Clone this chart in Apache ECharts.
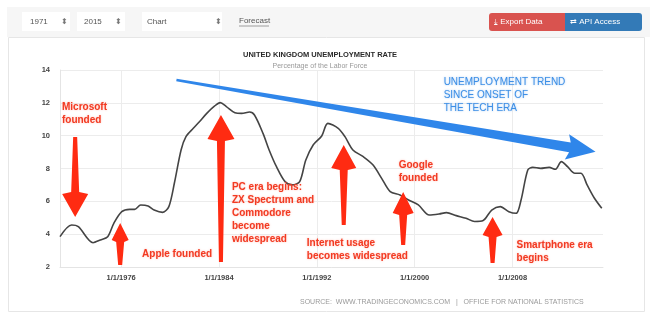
<!DOCTYPE html>
<html>
<head>
<meta charset="utf-8">
<script src="https://cdn.jsdelivr.net/npm/echarts@6/dist/echarts.min.js"></script>
<style>
  html, body { margin: 0; padding: 0; background: #fff; }
  #main { width: 650px; height: 313px; }
</style>
</head>
<body>
<div id="main"></div>
<script>
// UK unemployment rate (decimal year, percent)
const years = [1971.0, 1971.95, 1972.5, 1973.7, 1974.3, 1974.9, 1975.4, 1976.05, 1976.7, 1977.1,
  1977.6, 1978.2, 1978.7, 1979.4, 1979.9, 1980.35, 1980.9, 1981.3, 1981.9, 1982.4,
  1983.0, 1983.65, 1984.1, 1984.6, 1985.3, 1985.85, 1986.5, 1986.9, 1987.6, 1988.1,
  1988.7, 1989.4, 1990.0, 1990.6, 1991.1, 1991.7, 1992.4, 1992.9, 1993.75, 1994.3,
  1994.95, 1995.8, 1996.6, 1997.3, 1998.0, 1998.8, 1999.5, 2000.3, 2001.2, 2002.0,
  2002.6, 2003.4, 2004.2, 2004.9, 2005.6, 2006.3, 2007.0, 2007.7, 2008.3, 2008.7,
  2009.25, 2009.65, 2010.3, 2011.0, 2011.5, 2012.0, 2012.5, 2013.1, 2013.6, 2014.1,
  2014.7, 2015.3];
const rate = [3.85, 4.56, 4.46, 3.48, 3.65, 3.85, 4.66, 5.37, 5.51, 5.51,
  5.78, 5.72, 5.47, 5.33, 5.68, 7.1, 9.13, 9.94, 10.45, 10.85,
  11.36, 11.81, 12.01, 11.77, 11.40, 11.36, 11.44, 11.26, 10.14, 9.13,
  8.11, 7.2, 7.0, 7.2, 8.52, 9.43, 9.98, 10.75, 10.45, 9.94,
  9.13, 8.72, 8.21, 7.40, 6.59, 6.39, 6.08, 5.78, 5.17, 5.23,
  5.31, 5.13, 4.97, 4.77, 4.83, 5.47, 5.68, 5.37, 5.27, 6.08,
  7.91, 8.07, 8.01, 8.07, 7.95, 8.42, 8.11, 7.71, 7.71, 7.0,
  6.19, 5.58];
const xTicks = [1976, 1984, 1992, 2000, 2008];

// red arrows: year, tail value, tip value
const arrowYears = [1972.24, 1975.92, 1984.16, 1994.2, 1999.06, 2006.37];
const arrowTails = [9.92, 2.12, 2.31, 4.56, 3.34, 2.25];
const arrowTips = [5.05, 4.68, 11.26, 9.43, 6.57, 5.05];

// notes: text, anchor year, anchor value (first line)
const noteTexts = ['Microsoft\nfounded', 'Apple founded',
  'PC era begins:\nZX Spectrum and\nCommodore\nbecome\nwidespread',
  'Internet usage\nbecomes widespread', 'Google\nfounded', 'Smartphone era\nbegins'];
const noteYears = [1971.16, 1977.71, 1985.06, 1991.18, 1998.69, 2008.33];
const noteValues = [11.75, 2.79, 6.87, 3.46, 8.21, 3.34];

// blue trend arrow: [year, value] tail and tip
const trendTail = [1980.52, 13.39];
const trendTip = [2014.79, 9.02];
const trendText = 'UNEMPLOYMENT TREND\nSINCE ONSET OF\nTHE TECH ERA';
const trendTextAt = [2002.37, 13.27];

const headLen = [25, 19, 26, 25, 23, 20];
const headHalf = [13, 8.5, 13.5, 12.5, 10.5, 10];

const chart = echarts.init(document.getElementById('main'));
const font = '"Liberation Sans", Arial, sans-serif';

const option = {
  animation: false,
  title: {
    text: 'UNITED KINGDOM UNEMPLOYMENT RATE',
    subtext: 'Percentage of the Labor Force',
    left: 315,
    top: 46,
    textAlign: 'center',
    itemGap: 4,
    textStyle: { fontSize: 7.5, fontWeight: 'bold', color: '#2a2a2a', fontFamily: font },
    subtextStyle: { fontSize: 7, color: '#999', fontFamily: font }
  },
  grid: { left: 60, right: 47, top: 70, bottom: 46 },
  xAxis: {
    type: 'value',
    min: 1971,
    max: 2015.4,
    axisLine: { show: true, lineStyle: { color: '#e4e4e4' } },
    axisTick: { show: false, customValues: xTicks },
    axisLabel: {
      customValues: xTicks,
      formatter: v => '1/1/' + v,
      fontSize: 7.5,
      color: '#444',
      fontWeight: 'bold',
      margin: 7,
      fontFamily: font
    },
    splitLine: { show: true, lineStyle: { color: '#ececec' } }
  },
  yAxis: {
    type: 'value',
    min: 2,
    max: 14,
    interval: 2,
    axisLine: { show: true, lineStyle: { color: '#e4e4e4' } },
    axisTick: { show: false },
    axisLabel: { fontSize: 7.5, color: '#444', fontWeight: 'bold', margin: 10, fontFamily: font },
    splitLine: { lineStyle: { color: '#ececec' } }
  },
  series: [{
    type: 'line',
    data: years.map((y, i) => [y, rate[i]]),
    showSymbol: false,
    smooth: 0.3,
    lineStyle: { color: '#444', width: 1.6 }
  }]
};
chart.setOption(option);

// decorations placed from data coordinates
const px = p => chart.convertToPixel({ gridIndex: 0 }, p);
const graphics = [];

// page chrome
graphics.push(
  { type: 'rect', shape: { x: 7, y: 7, width: 643, height: 30 }, style: { fill: '#f6f6f6' }, z: 0 },
  { type: 'rect', shape: { x: 8.5, y: 37.5, width: 636, height: 274 }, style: { fill: 'none', stroke: '#e6e6e6' }, z: 0 },
  { type: 'rect', shape: { x: 22, y: 12, width: 48, height: 19 }, style: { fill: '#fff' }, z: 1 },
  { type: 'rect', shape: { x: 77, y: 12, width: 48, height: 19 }, style: { fill: '#fff' }, z: 1 },
  { type: 'rect', shape: { x: 142, y: 12, width: 80, height: 19 }, style: { fill: '#fff' }, z: 1 },
  { type: 'text', x: 30, y: 22, style: { text: '1971', fill: '#555', font: '8px ' + font, verticalAlign: 'middle' }, z: 2 },
  { type: 'text', x: 61, y: 22, style: { text: '⬍', fontSize: 8, fill: '#777', verticalAlign: 'middle' }, z: 2 },
  { type: 'text', x: 84, y: 22, style: { text: '2015', fill: '#555', font: '8px ' + font, verticalAlign: 'middle' }, z: 2 },
  { type: 'text', x: 115, y: 22, style: { text: '⬍', fontSize: 8, fill: '#777', verticalAlign: 'middle' }, z: 2 },
  { type: 'text', x: 147, y: 22, style: { text: 'Chart', fill: '#555', font: '8px ' + font, verticalAlign: 'middle' }, z: 2 },
  { type: 'text', x: 215, y: 22, style: { text: '⬍', fontSize: 8, fill: '#777', verticalAlign: 'middle' }, z: 2 },
  { type: 'text', x: 239, y: 21, style: { text: 'Forecast', fill: '#555', font: '8px ' + font, verticalAlign: 'middle' }, z: 2 },
  { type: 'line', shape: { x1: 239, y1: 26, x2: 269, y2: 26 }, style: { stroke: '#888', lineWidth: 0.8 }, z: 2 },
  { type: 'rect', shape: { x: 489, y: 13, width: 77, height: 18, r: [3, 0, 0, 3] }, style: { fill: '#d9534f' }, z: 1 },
  { type: 'rect', shape: { x: 565, y: 13, width: 77, height: 18, r: [0, 3, 3, 0] }, style: { fill: '#337ab7' }, z: 1 },
  { type: 'text', x: 494, y: 22, style: { text: '⤓ Export Data', fill: '#fff', font: '8px ' + font, verticalAlign: 'middle' }, z: 2 },
  { type: 'text', x: 570, y: 22, style: { text: '⇄ API Access', fill: '#fff', font: '8px ' + font, verticalAlign: 'middle' }, z: 2 },
  { type: 'text', x: 300, y: 302, style: { text: 'SOURCE:  WWW.TRADINGECONOMICS.COM   |   OFFICE FOR NATIONAL STATISTICS', fill: '#9a9a9a', font: '7px ' + font, verticalAlign: 'middle' }, z: 2 }
);

// red arrows
arrowYears.forEach((yr, i) => {
  const tail = px([yr, arrowTails[i]]);
  const tip = px([yr, arrowTips[i]]);
  const x = tip[0];
  const dir = tip[1] > tail[1] ? 1 : -1;
  const base = tip[1] - dir * headLen[i];
  const h = headHalf[i];
  graphics.push({
    type: 'polygon',
    shape: { points: [[x - 2, tail[1]], [x + 2, tail[1]], [x + 4, base], [x + h, base + dir * 2],
      [x, tip[1]], [x - h, base + dir * 2], [x - 4, base]] },
    style: { fill: '#ff2b12' },
    z: 10
  });
});

// red notes
noteTexts.forEach((t, i) => {
  const p = px([noteYears[i], noteValues[i]]);
  graphics.push({
    type: 'text', x: p[0], y: p[1] - 6.5,
    style: {
      text: t, fill: '#f23a22', font: 'bold 10px ' + font, lineHeight: 13,
      verticalAlign: 'top', textShadowColor: 'rgba(255,120,100,0.5)', textShadowBlur: 2
    },
    z: 11
  });
});

// blue trend arrow
(function () {
  const a = px(trendTail), b = px(trendTip);
  const dx = b[0] - a[0], dy = b[1] - a[1];
  const len = Math.sqrt(dx * dx + dy * dy);
  const ux = dx / len, uy = dy / len, nx = -uy, ny = ux;
  const bx = b[0] - ux * 26, by = b[1] - uy * 26;
  const pt = (x, y, k) => [x + nx * k, y + ny * k];
  graphics.push({
    type: 'polygon',
    shape: { points: [pt(a[0], a[1], -1.3), pt(bx, by, -5), pt(bx - ux * 3, by - uy * 3, -12.7), b,
      pt(bx - ux * 3, by - uy * 3, 12.7), pt(bx, by, 5), pt(a[0], a[1], 1.3)] },
    style: { fill: '#2f86ea' },
    z: 10
  });
  const p = px(trendTextAt);
  graphics.push({
    type: 'text', x: p[0], y: p[1] - 6.5,
    style: {
      text: trendText, fill: '#3d8fe6', font: '10px ' + font, lineHeight: 13,
      verticalAlign: 'top', textShadowColor: 'rgba(60,140,230,0.5)', textShadowBlur: 2
    },
    z: 11
  });
})();

chart.setOption({ graphic: graphics });
</script>
</body>
</html>
